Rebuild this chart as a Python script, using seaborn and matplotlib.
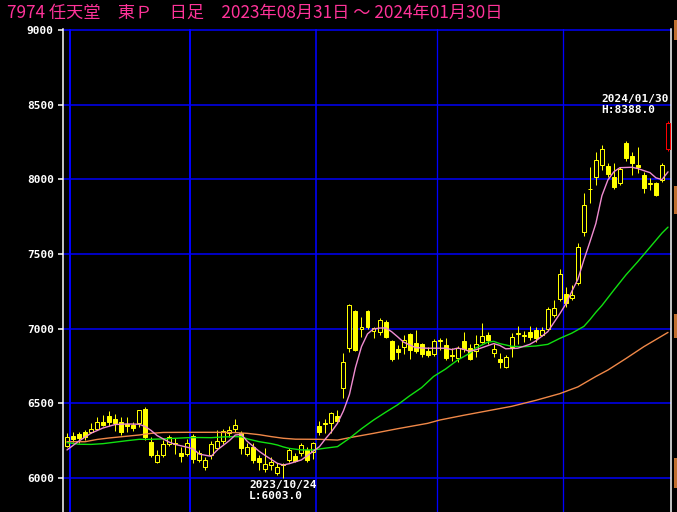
import matplotlib
matplotlib.use("Agg")
import matplotlib.pyplot as plt
from matplotlib.patches import Rectangle
import seaborn as sns
import pandas as pd

# ---------------- data ----------------
title = "7974 任天堂　東Ｐ　日足　2023年08月31日 ～ 2024年01月30日"

opens = [6216, 6280, 6295, 6305, 6305, 6330, 6377, 6412, 6398, 6377,
         6360, 6355, 6366, 6462, 6243, 6109, 6154, 6225, 6232, 6165,
         6158, 6281, 6118, 6072, 6154, 6203, 6245, 6300, 6328, 6300,
         6161, 6210, 6132, 6060, 6087, 6032, 6092, 6121, 6148, 6165,
         6188, 6177, 6345, 6368, 6366, 6415, 6601, 6873, 7120, 6995,
         7120, 6985, 6980, 7047, 6920, 6862, 6875, 6964, 6906, 6897,
         6853, 6830, 6922, 6890, 6822, 6806, 6920, 6869, 6853, 6913,
         6958, 6835, 6800, 6741, 6880, 6962, 6952, 6975, 6991, 6958,
         6998, 7092, 7197, 7232, 7203, 7304, 7650, 7935, 8014, 8096,
         8089, 8018, 7978, 8245, 8156, 8096, 8029, 7968, 7978, 7996,
         8200]
highs = [6301, 6305, 6310, 6320, 6370, 6410, 6420, 6450, 6430, 6410,
         6410, 6372, 6458, 6476, 6277, 6188, 6254, 6290, 6268, 6210,
         6260, 6295, 6190, 6140, 6250, 6321, 6330, 6345, 6393, 6315,
         6235, 6232, 6154, 6200, 6140, 6100, 6098, 6200, 6165, 6232,
         6210, 6240, 6380, 6393, 6440, 6455, 6835, 7165, 7125, 7080,
         7125, 7012, 7070, 7060, 6925, 6890, 6958, 6970, 6991, 6905,
         6880, 6930, 6935, 6935, 6870, 6886, 6980, 6900, 6958, 7036,
         6980, 6900, 6835, 6825, 6970, 7018, 6985, 7018, 7012, 7010,
         7148, 7192, 7397, 7281, 7292, 7572, 7906, 8085, 8185, 8230,
         8107, 8107, 8085, 8259, 8185, 8219, 8051, 8007, 7985, 8107,
         8388]
lows = [6208, 6240, 6233, 6255, 6298, 6320, 6345, 6345, 6315, 6290,
        6310, 6315, 6340, 6255, 6143, 6100, 6140, 6215, 6160, 6110,
        6148, 6098, 6110, 6054, 6130, 6188, 6225, 6275, 6310, 6159,
        6150, 6098, 6054, 6043, 6054, 6020, 6003, 6110, 6105, 6150,
        6108, 6130, 6288, 6300, 6300, 6366, 6534, 6842, 6850, 6946,
        6995, 6935, 6960, 6940, 6785, 6800, 6830, 6800, 6835, 6810,
        6810, 6815, 6857, 6790, 6783, 6780, 6847, 6790, 6812, 6902,
        6900, 6812, 6735, 6735, 6810, 6900, 6912, 6925, 6913, 6950,
        6991, 7080, 7187, 7147, 7192, 7292, 7620, 7840, 7962, 8063,
        8018, 7933, 7962, 8125, 8029, 8045, 7911, 7929, 7890, 7985,
        8190]
closes = [6277, 6262, 6266, 6277, 6325, 6372, 6355, 6372, 6370, 6310,
          6345, 6337, 6453, 6275, 6154, 6154, 6225, 6275, 6228, 6150,
          6232, 6127, 6165, 6119, 6225, 6250, 6315, 6320, 6355, 6199,
          6205, 6121, 6110, 6092, 6109, 6076, 6088, 6188, 6117, 6221,
          6121, 6232, 6308, 6364, 6433, 6384, 6775, 7159, 6857, 7010,
          7009, 7002, 7058, 6946, 6797, 6846, 6924, 6857, 6853, 6830,
          6824, 6917, 6918, 6806, 6818, 6873, 6862, 6795, 6897, 6951,
          6924, 6862, 6779, 6812, 6943, 6968, 6955, 6945, 6935, 6991,
          7132, 7136, 7366, 7174, 7225, 7549, 7828, 7933, 8130, 8201,
          8036, 7947, 8067, 8141, 8107, 8085, 7940, 7978, 7895, 8096,
          8380]

month_start_idx = [1, 21, 42, 62, 83]   # 9/1, 10/2, 11/1, 12/1, 1/4

ma_short_idx = [0, 2, 4, 6, 8, 10, 12, 13, 14, 15, 17, 18, 20, 21, 22, 24, 25,
                27, 28, 29, 30, 32, 33, 35, 36, 37, 39, 40, 42, 43, 44, 45, 46,
                47, 48, 49, 50, 51, 52, 53, 54, 55, 56, 58, 60, 62, 63, 64, 65,
                66, 67, 68, 69, 71, 72, 73, 75, 77, 78, 80, 81, 82, 83, 84, 85,
                86, 87, 88, 89, 90, 91, 92, 94, 95, 96, 97, 98, 99, 100]
ma_short_val = [6188, 6248, 6300, 6335, 6358, 6362, 6360, 6345, 6318, 6284,
                6240, 6225, 6206, 6195, 6160, 6145, 6188, 6250, 6288, 6292,
                6245, 6178, 6150, 6098, 6087, 6096, 6121, 6150, 6210, 6262,
                6310, 6366, 6450, 6560, 6740, 6880, 6965, 6998, 7004, 7005,
                6980, 6946, 6910, 6873, 6869, 6869, 6869, 6860, 6870, 6862,
                6848, 6858, 6872, 6900, 6888, 6865, 6869, 6895, 6918, 6980,
                7040, 7100, 7165, 7250, 7330, 7460, 7580, 7705, 7890, 7996,
                8051, 8078, 8081, 8072, 8058, 8045, 8010, 7998, 8050]

ma_mid_idx = [0, 2, 4, 6, 8, 10, 12, 14, 16, 18, 20, 22, 24, 26, 28, 29, 30,
              32, 34, 35, 36, 37, 39, 41, 43, 45, 47, 49, 51, 53, 55, 57, 59,
              61, 63, 65, 67, 68, 70, 71, 72, 74, 76, 78, 80, 82, 84, 86, 87,
              88, 89, 91, 93, 95, 97, 99, 100]
ma_mid_val = [6237, 6226, 6225, 6230, 6240, 6250, 6259, 6259, 6262, 6266,
              6270, 6271, 6270, 6275, 6277, 6276, 6262, 6243, 6230, 6221,
              6208, 6198, 6188, 6188, 6200, 6210, 6266, 6330, 6388, 6440,
              6490, 6550, 6605, 6680, 6730, 6790, 6835, 6870, 6910, 6915,
              6900, 6882, 6879, 6884, 6895, 6935, 6970, 7015, 7060, 7110,
              7155, 7259, 7360, 7450, 7545, 7640, 7680]

ma_long_idx = [0, 3, 5, 7, 9, 12, 14, 16, 20, 25, 28, 30, 32, 34, 36, 38, 42,
               45, 47, 51, 55, 60, 62, 66, 70, 74, 78, 82, 85, 88, 90, 93, 96,
               100]
ma_long_val = [6243, 6243, 6258, 6268, 6276, 6288, 6299, 6305, 6306, 6306,
               6304, 6299, 6290, 6277, 6266, 6260, 6259, 6254, 6270, 6299,
               6330, 6366, 6388, 6420, 6450, 6480, 6520, 6565, 6610, 6680,
               6723, 6800, 6880, 6975]

y_ticks = [6000, 6500, 7000, 7500, 8000, 8500, 9000]
low_idx, low_date, low_text = 36, "2023/10/24", "L:6003.0"
high_idx, high_date, high_text = 100, "2024/01/30", "H:8388.0"

# ---------------- style ----------------
sns.set_theme(style="dark", rc={
    "axes.facecolor": "black", "figure.facecolor": "black",
    "axes.grid": False, "savefig.facecolor": "black",
})
plt.rcParams["font.family"] = ["DejaVu Sans"]

YELLOW = "#FFFF00"
BLUE = "#0000FF"
PINK_T = "#FF3399"
MA_COLORS = ["#F08CD0", "#10E010", "#F08848"]
PX = 72 / 100  # one pixel in points

W, H = 677, 512
fig = plt.figure(figsize=(W / 100, H / 100), dpi=100)
left_px, right_px, top_px = 63, 670.5, 29
ax = fig.add_axes([left_px / W, 0, (right_px - left_px) / W, (H - top_px) / H])

px_per_idx = 6.01
x0_px = 67.0
ax.set_xlim((left_px - x0_px) / px_per_idx, (right_px - x0_px) / px_per_idx)
price_per_px = 3000 / 448
ax.set_ylim(9000 - (H - 30) * price_per_px, 9000 + (30 - top_px) * price_per_px)

# grid lines
for t in y_ticks:
    ax.axhline(t, color=BLUE, lw=1.5 * PX, zorder=1)
vline_w = [2, 2, 1.6, 1.3, 1.3]
for m, lw in zip(month_start_idx, vline_w):
    ax.axvline(m - 0.5, color=BLUE, lw=lw * PX, zorder=1)

# candles
df = pd.DataFrame({"o": opens, "h": highs, "l": lows, "c": closes})
df["i"] = range(len(df))
last = len(df) - 1
for r in df.itertuples():
    col = "#FF0000" if r.i == last else YELLOW
    ax.vlines(r.i, r.l, r.h, color=col, lw=1 * PX, zorder=3)
    up = r.c >= r.o
    bottom = min(r.o, r.c)
    height = max(abs(r.c - r.o), 1.0)
    ax.bar(r.i, height, bottom=bottom, width=0.66,
           facecolor="black" if up else col, edgecolor=col,
           linewidth=1 * PX, zorder=4)

# moving averages
for xs, ys, c in [(ma_long_idx, ma_long_val, MA_COLORS[2]),
                  (ma_mid_idx, ma_mid_val, MA_COLORS[1]),
                  (ma_short_idx, ma_short_val, MA_COLORS[0])]:
    sns.lineplot(x=xs, y=ys, color=c, lw=1.0, ax=ax, zorder=5)

# axes
ax.set_xticks([])
ax.set_yticks(y_ticks)
ax.set_yticklabels([str(t) for t in y_ticks], color="white",
                   fontfamily="DejaVu Sans Mono", fontweight="bold", fontsize=8)
ax.tick_params(axis="y", length=5 * PX, width=1.5 * PX, color="white",
               pad=3, left=True)
for s in ["top", "bottom"]:
    ax.spines[s].set_visible(False)
for s in ["left", "right"]:
    ax.spines[s].set_visible(True)
    ax.spines[s].set_color("white")
    ax.spines[s].set_linewidth(1.5 * PX)
ax.set_xlabel("")
ax.set_ylabel("")

# annotations
lab_kw = dict(color="white", fontfamily="DejaVu Sans Mono", fontweight="bold",
              fontsize=8, annotation_clip=False, zorder=6)
ax.annotate(low_date, xy=(low_idx, lows[low_idx]), xytext=(0, -2 * PX),
            textcoords="offset points", ha="center", va="top", **lab_kw)
ax.annotate(low_text, xy=(low_idx, lows[low_idx]), xytext=(-35 * PX, -13 * PX),
            textcoords="offset points", ha="left", va="top", **lab_kw)
ax.annotate(high_text, xy=(high_idx, highs[high_idx]), xytext=(-67 * PX, 6 * PX),
            textcoords="offset points", ha="left", va="bottom", **lab_kw)
ax.annotate(high_date, xy=(high_idx, highs[high_idx]), xytext=(-67 * PX, 17 * PX),
            textcoords="offset points", ha="left", va="bottom", **lab_kw)

fig.text(7 / W, 1 - 12.5 / H, title, color=PINK_T, fontsize=12.4,
         family=["Noto Sans CJK JP", "DejaVu Sans"], va="center", ha="left")

# clipped price tags peeking in at the right edge
for y_top, y_bot in [(20, 40), (186, 214), (314, 338), (458, 488)]:
    fig.add_artist(Rectangle((673.5 / W, 1 - y_bot / H), 3.5 / W,
                             (y_bot - y_top) / H, transform=fig.transFigure,
                             facecolor="#C07030", edgecolor="none"))

fig.savefig("out.png", dpi=100, facecolor="black")
